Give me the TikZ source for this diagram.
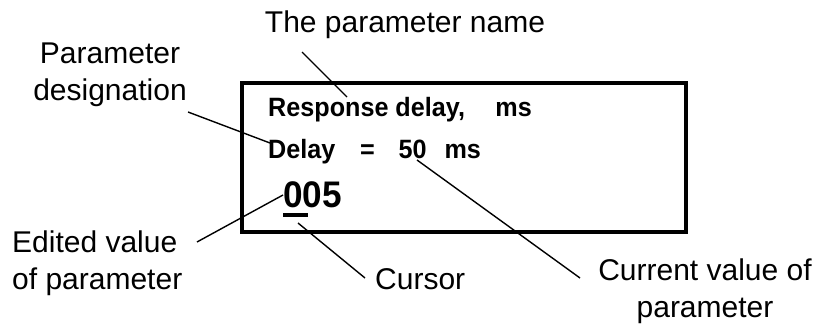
\documentclass[tikz,border=0pt]{standalone}
\usepackage{fontspec}
\setmainfont{Liberation Sans}
\newcommand{\lcdtxt}[1]{\scalebox{0.95}[1]{#1}}
\begin{document}
\begin{tikzpicture}[x=1pt,y=-1pt,
  lbl/.style={inner sep=0pt,font=\fontsize{30}{37}\selectfont},
  lcd/.style={inner sep=0pt,anchor=base west,font=\fontsize{26.5}{30}\selectfont\bfseries},
  leader/.style={line width=1.4pt,black},
  frame/.style={line width=4pt,black}]
\useasboundingbox (0,0) rectangle (822,324);
% display frame
\draw[frame] (242,83) rectangle (686,232);
% display texts
\node[lcd] (name) at (268,116.5) {\lcdtxt{Response delay,\hspace{32pt}ms}};
\node[lcd] (desig) at (268,158) {\lcdtxt{Delay\hspace{26pt}=\hspace{25pt}50\hspace{19pt}ms}};
\node[lcd,font=\fontsize{37}{40}\selectfont\bfseries] (val) at (283,207) {\lcdtxt{005}};
\node[fill=black,inner sep=0pt,minimum width=25pt,minimum height=4.5pt] (cur) at (295,215) {};
% labels
\node[lbl,anchor=base] (lname) at (405,32) {The parameter name};
\node[lbl,anchor=north,align=center] (ldesig) at (110,43) {Parameter\\designation};
\node[lbl,anchor=north west,align=left] (ledit) at (12,231) {Edited value\\of parameter};
\node[lbl,anchor=base west] (lcur) at (375,289) {Cursor};
\node[lbl,anchor=north,align=center] (lval) at (705,259) {Current value of\\parameter};
% leader end points
\coordinate (a1) at (302,52);  \coordinate (a2) at (347,97);
\coordinate (b1) at (188,112); \coordinate (b2) at (270,143);
\coordinate (c1) at (197,242); \coordinate (c2) at (283,195);
\coordinate (d1) at (365,278); \coordinate (d2) at (298,223);
\coordinate (e1) at (580,278); \coordinate (e2) at (417,160);
\draw[leader] (a1) -- (a2);
\draw[leader] (b1) -- (b2);
\draw[leader] (c1) -- (c2);
\draw[leader] (d1) -- (d2);
\draw[leader] (e1) -- (e2);
\end{tikzpicture}
\end{document}
